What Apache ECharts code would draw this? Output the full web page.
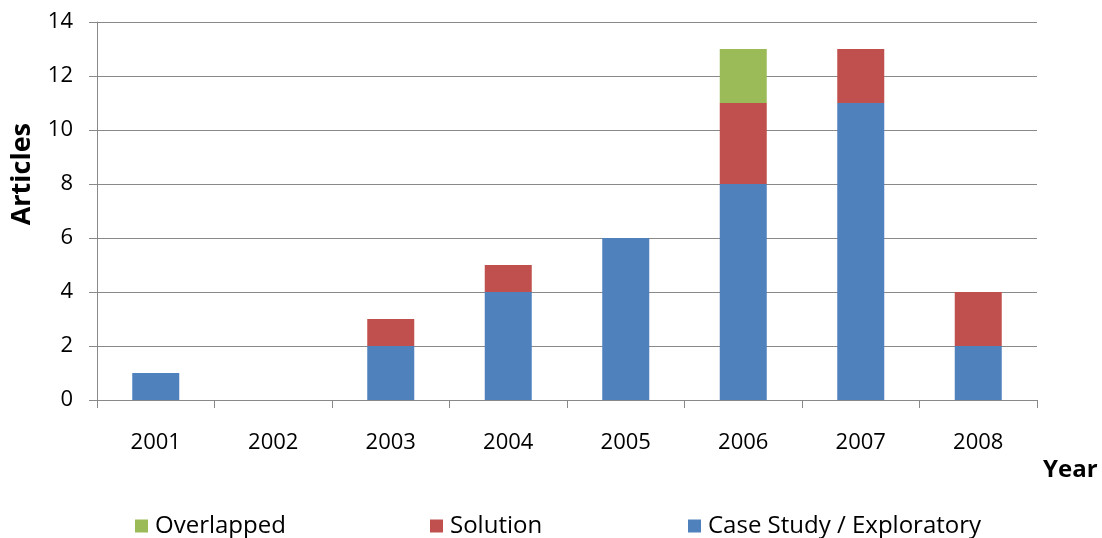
<!DOCTYPE html>
<html><head><meta charset="utf-8">
<script src="https://cdn.jsdelivr.net/npm/echarts@6/dist/echarts.min.js"></script>
<style>html,body{margin:0;padding:0;background:#fff}#c{width:1102px;height:538px}</style>
</head><body><div id="c"></div>
<script>
const categories = ['2001','2002','2003','2004','2005','2006','2007','2008'];
const caseStudy = [1,0,2,4,6,8,11,2];
const solution = [0,0,1,1,0,3,2,2];
const overlapped = [0,0,0,0,0,2,0,0];
const yTicks = {min:0,max:14,interval:2};

const FONT = "'Open Sans', sans-serif";
const chart = echarts.init(document.getElementById('c'));
const legendBase = {top: 514, itemWidth: 13, itemHeight: 13, itemGap: 6, icon: 'rect', padding: 0,
  textStyle: {fontFamily: FONT, fontSize: 24, color: '#000', padding:[0,0,0,2]}};
chart.setOption({
  animation: false,
  grid: {left: 97, right: 65, top: 22, bottom: 138},
  legend: [
    Object.assign({}, legendBase, {left: 135, data: ['Overlapped']}),
    Object.assign({}, legendBase, {left: 430, data: ['Solution']}),
    Object.assign({}, legendBase, {left: 688, data: ['Case Study / Exploratory']})
  ],
  graphic: [{
    type: 'text', left: 9, top: 123, rotation: Math.PI / 2,
    style: {text: 'Articles', fontFamily: FONT, fontSize: 27, fontWeight: 'bold', fill: '#000'}
  }],
  xAxis: {
    type: 'category', data: categories,
    axisLine: {lineStyle: {color: '#898989', width: 1}},
    axisTick: {show: true, alignWithLabel: false, length: 8, lineStyle: {color: '#898989'}},
    axisLabel: {fontFamily: FONT, fontSize: 22, color: '#000', margin: 32},
    name: 'Year', nameLocation: 'end', nameGap: 0,
    nameTextStyle: {fontFamily: FONT, fontSize: 24, fontWeight: 'bold', color: '#000',
      verticalAlign: 'top', align: 'left', padding: [58, 0, 0, 6]}
  },
  yAxis: {
    type: 'value', min: yTicks.min, max: yTicks.max, interval: yTicks.interval,
    axisLine: {show: true, lineStyle: {color: '#898989'}},
    axisTick: {show: true, length: 8, lineStyle: {color: '#898989'}},
    splitLine: {lineStyle: {color: '#898989'}},
    axisLabel: {fontFamily: FONT, fontSize: 22, color: '#000', margin: 24}
  },
  series: [
    {name: 'Case Study / Exploratory', type: 'bar', stack: 's', data: caseStudy, barWidth: 47, itemStyle: {color: '#4F81BD'}},
    {name: 'Solution', type: 'bar', stack: 's', data: solution, barWidth: 47, itemStyle: {color: '#C0504D'}},
    {name: 'Overlapped', type: 'bar', stack: 's', data: overlapped, barWidth: 47, itemStyle: {color: '#9BBB59'}}
  ]
});
</script></body></html>
